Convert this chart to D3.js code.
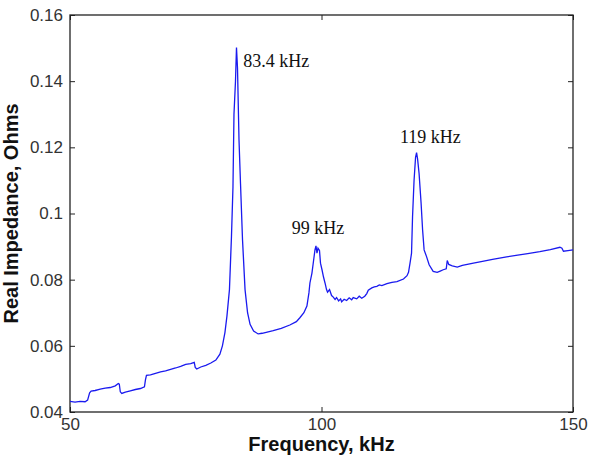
<!DOCTYPE html>
<html>
<head>
<meta charset="utf-8">
<script src="https://cdn.jsdelivr.net/npm/d3@7"></script>
<style>
  body { margin: 0; background: #fff; }
  #chart { width: 590px; height: 460px; }
  .tick text { font-family: "Liberation Sans", Arial, sans-serif; font-size: 17px; fill: #333; }
  .axis-title { font-family: "Liberation Sans", Arial, sans-serif; font-size: 20px; font-weight: bold; fill: #111; }
  .peak-label { font-family: "Liberation Serif", "Times New Roman", serif; font-size: 18px; fill: #111; }
</style>
</head>
<body>
<div id="chart"></div>
<script>
(function() {
  'use strict';

const W = 590;
const H = 460;
const MARGIN = { top: 15, right: 17, bottom: 48, left: 70 };

// measured curve, frequency in kHz
const freq = [
  50.0, 51.0, 52.0, 53.0, 53.5, 53.9, 54.2, 55.0, 56.0, 57.0, 58.0, 59.0, 59.6, 59.8,
  60.0, 60.3, 61.0, 62.0, 63.0, 64.0, 64.8, 65.0, 65.2, 66.0, 67.0, 68.0, 69.0, 70.0,
  71.0, 72.0, 73.0, 74.0, 74.7, 74.9, 75.2, 76.0, 77.0, 78.0, 79.0, 79.8, 80.3, 80.8,
  81.2, 81.7, 82.1, 82.4, 82.6, 82.9, 83.1, 83.3, 83.6, 83.9, 84.3, 84.8, 85.3, 85.8,
  86.5, 87.4, 88.2, 89.0, 90.4, 92.0, 93.7, 95.0, 95.7, 96.5, 97.1, 97.5, 97.7, 98.1,
  98.4, 98.7, 98.9, 99.1, 99.3, 99.6, 99.8, 100.1, 100.4, 100.7, 101.0, 101.2, 101.6,
  102.0, 102.3, 102.7, 103.0, 103.4, 103.8, 104.0, 104.5, 105.0, 105.5, 106.0, 106.3,
  107.0, 107.5, 108.0, 108.6, 109.0, 109.3, 110.0, 110.5, 111.0, 111.5, 112.0, 113.0,
  114.0, 115.0, 116.3, 117.0, 117.3, 117.6, 117.9, 118.1, 118.4, 118.7, 118.9, 119.1,
  119.4, 119.8, 120.1, 120.4, 120.9, 121.4, 122.2, 123.0, 123.6, 124.2, 124.8, 125.0,
  125.3, 126.0, 127.0, 128.0, 130.2, 132.0, 134.0, 136.8, 139.0, 141.0, 143.4, 145.5,
  147.4, 147.8, 148.1, 149.0, 150.0
];

// real impedance in ohms
const impedance = [
  0.0432, 0.0430, 0.0432, 0.0431, 0.0436, 0.0458, 0.0463, 0.0465, 0.0469, 0.0472, 0.0474, 0.0479, 0.0486, 0.0484,
  0.0461, 0.0456, 0.0460, 0.0464, 0.0468, 0.0471, 0.0476, 0.0497, 0.0511, 0.0512, 0.0517, 0.0521, 0.0524, 0.0529,
  0.0533, 0.0538, 0.0544, 0.0546, 0.0550, 0.0535, 0.0530, 0.0536, 0.0541, 0.0548, 0.0557, 0.0575, 0.0600, 0.0640,
  0.0690, 0.0770, 0.0930, 0.1080, 0.1300, 0.1400, 0.1502, 0.1440, 0.1222, 0.1090, 0.0920, 0.0770, 0.0700, 0.0665,
  0.0645, 0.0636, 0.0638, 0.0641, 0.0646, 0.0653, 0.0663, 0.0673, 0.0685, 0.0700, 0.0720, 0.0760, 0.0790, 0.0820,
  0.0855, 0.0890, 0.0902, 0.0880, 0.0895, 0.0888, 0.0850, 0.0830, 0.0808, 0.0790, 0.0770, 0.0762, 0.0770,
  0.0752, 0.0748, 0.0740, 0.0746, 0.0736, 0.0742, 0.0733, 0.0741, 0.0737, 0.0745, 0.0739, 0.0746,
  0.0742, 0.0750, 0.0744, 0.0750, 0.0758, 0.0768, 0.0775, 0.0778, 0.0780, 0.0784, 0.0782, 0.0788,
  0.0792, 0.0794, 0.0802, 0.0812, 0.0822, 0.0850, 0.0880, 0.0990, 0.1100, 0.1170, 0.1184, 0.1165,
  0.1121, 0.1031, 0.0950, 0.0890, 0.0869, 0.0845, 0.0825, 0.0822, 0.0826, 0.0830, 0.0833, 0.0858,
  0.0846, 0.0842, 0.0838, 0.0843, 0.0850, 0.0855, 0.0861, 0.0869, 0.0874, 0.0879, 0.0885, 0.0891,
  0.0898, 0.0895, 0.0886, 0.0888, 0.0890
];

const xTicks = [50, 100, 150];
const yTicks = [0.04, 0.06, 0.08, 0.1, 0.12, 0.14, 0.16];

const peakText = ["83.4 kHz", "99 kHz", "119 kHz"];
const peakFreq = [84.45, 94.08, 115.6];
const peakImp = [0.1443, 0.0938, 0.1213];

const svg = d3.select("#chart")
  .append("svg")
    .attr("width", W)
    .attr("height", H);

const xScale = d3.scaleLinear()
  .domain([50, 150])
  .range([MARGIN.left, W - MARGIN.right]);

const yScale = d3.scaleLinear()
  .domain([0.04, 0.16])
  .range([H - MARGIN.bottom, MARGIN.top]);

const fmtY = (d) => d === 0.1 ? "0.1" : d3.format(".2f")(d);

// bottom + left with labels, top + right ticks only (matlab box)
svg.append("g")
  .attr("transform", `translate(0, ${H - MARGIN.bottom})`)
  .call(d3.axisBottom(xScale).tickValues(xTicks).tickSize(-5).tickPadding(6).tickSizeOuter(0));

svg.append("g")
  .attr("transform", `translate(${MARGIN.left}, 0)`)
  .call(d3.axisLeft(yScale).tickValues(yTicks).tickFormat(fmtY).tickSize(-5).tickPadding(7).tickSizeOuter(0));

svg.append("g")
  .attr("transform", `translate(0, ${MARGIN.top})`)
  .call(d3.axisTop(xScale).tickValues(xTicks).tickSize(-5).tickFormat("").tickSizeOuter(0));

svg.append("g")
  .attr("transform", `translate(${W - MARGIN.right}, 0)`)
  .call(d3.axisRight(yScale).tickValues(yTicks).tickSize(-5).tickFormat("").tickSizeOuter(0));

svg.selectAll(".domain").remove();
svg.selectAll(".tick line").attr("stroke", "#222");

svg.append("rect")
  .attr("x", MARGIN.left)
  .attr("y", MARGIN.top)
  .attr("width", W - MARGIN.left - MARGIN.right)
  .attr("height", H - MARGIN.top - MARGIN.bottom)
  .attr("fill", "none")
  .attr("stroke", "#222")
  .attr("stroke-width", 1.3);

const line = d3.line()
  .x((d, i) => xScale(freq[i]))
  .y((d) => yScale(d));

svg.append("path")
  .datum(impedance)
  .attr("d", line)
  .attr("fill", "none")
  .attr("stroke", "#1a1aef")
  .attr("stroke-width", 1.3);

svg.selectAll(".peak-label")
  .data(peakText)
  .enter()
  .append("text")
    .attr("class", "peak-label")
    .attr("x", (d, i) => xScale(peakFreq[i]))
    .attr("y", (d, i) => yScale(peakImp[i]))
    .text((d) => d);

svg.append("text")
  .attr("class", "axis-title")
  .attr("x", (MARGIN.left + W - MARGIN.right) / 2)
  .attr("y", 451)
  .attr("text-anchor", "middle")
  .text("Frequency, kHz");

svg.append("text")
  .attr("class", "axis-title")
  .attr("transform", `translate(18, ${(MARGIN.top + H - MARGIN.bottom) / 2}) rotate(-90)`)
  .attr("text-anchor", "middle")
  .text("Real Impedance, Ohms");

})()
</script>
</body>
</html>
